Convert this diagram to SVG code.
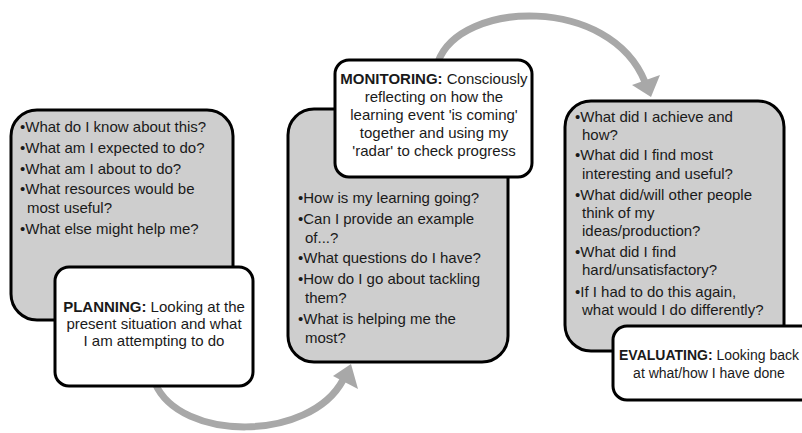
<svg xmlns="http://www.w3.org/2000/svg" width="802" height="433" viewBox="0 0 802 433">
<style>
.q{fill:#cecece;stroke:#000;stroke-width:3}
.s{fill:#fff;stroke:#000;stroke-width:3}
text{font-family:"Liberation Sans",Arial,sans-serif;font-size:15px;fill:#1a1a1a}
.c{text-anchor:middle}
.b{font-weight:bold}
.e{font-size:14px}
.arc{fill:none;stroke:#a8a8a8;stroke-width:7}
.head{fill:#a8a8a8}
</style>
<rect width="802" height="433" fill="#fff"/>
<g id="connectors">
<path class="arc" d="M438 62 C460 0,610 -5,645 82"/>
<polygon class="head" points="651,97 632,85 660,75"/>
<path class="arc" d="M155 383 C180 442,310 442,343 380"/>
<polygon class="head" points="351,364 333,376 358,389"/>
</g>
<g id="planning-questions">
<rect class="q" x="11" y="110" width="222" height="210" rx="26"/>
<text x="20" y="132">•What do I know about this?</text>
<text x="20" y="153">•What am I expected to do?</text>
<text x="20" y="174">•What am I about to do?</text>
<text x="20" y="194">•What resources would be</text>
<text x="27" y="213">most useful?</text>
<text x="20" y="234">•What else might help me?</text>
</g>
<g id="planning">
<rect class="s" x="55" y="267" width="198" height="119" rx="14"/>
<text class="c" x="154" y="312"><tspan class="b">PLANNING:</tspan> Looking at the</text>
<text class="c" x="154" y="329">present situation and what</text>
<text class="c" x="154" y="346">I am attempting to do</text>
</g>
<g id="monitoring-questions">
<rect class="q" x="288" y="109" width="220" height="253" rx="26"/>
<text x="298" y="203">•How is my learning going?</text>
<text x="298" y="224">•Can I provide an example</text>
<text x="305" y="243">of...?</text>
<text x="298" y="263">•What questions do I have?</text>
<text x="298" y="284">•How do I go about tackling</text>
<text x="305" y="303">them?</text>
<text x="298" y="324">•What is helping me the</text>
<text x="305" y="343">most?</text>
</g>
<g id="monitoring">
<rect class="s" x="335" y="60" width="197" height="117" rx="14"/>
<text class="c" x="434" y="84"><tspan class="b">MONITORING:</tspan> Consciously</text>
<text class="c" x="434" y="102">reflecting on how the</text>
<text class="c" x="434" y="120">learning event 'is coming'</text>
<text class="c" x="434" y="138">together and using my</text>
<text class="c" x="434" y="156">'radar' to check progress</text>
</g>
<g id="evaluating-questions">
<rect class="q" x="565" y="101" width="219" height="250" rx="26"/>
<text x="575" y="122">•What did I achieve and</text>
<text x="582" y="140">how?</text>
<text x="575" y="160">•What did I find most</text>
<text x="582" y="179">interesting and useful?</text>
<text x="575" y="200">•What did/will other people</text>
<text x="582" y="218">think of my</text>
<text x="582" y="236">ideas/production?</text>
<text x="575" y="257">•What did I find</text>
<text x="582" y="275">hard/unsatisfactory?</text>
<text x="575" y="297">•If I had to do this again,</text>
<text x="582" y="315">what would I do differently?</text>
</g>
<g id="evaluating">
<rect class="s" x="613" y="326" width="210" height="74" rx="14"/>
<text class="c e" x="709" y="360"><tspan class="b">EVALUATING:</tspan> Looking back</text>
<text class="c e" x="709" y="378">at what/how I have done</text>
</g>
</svg>
